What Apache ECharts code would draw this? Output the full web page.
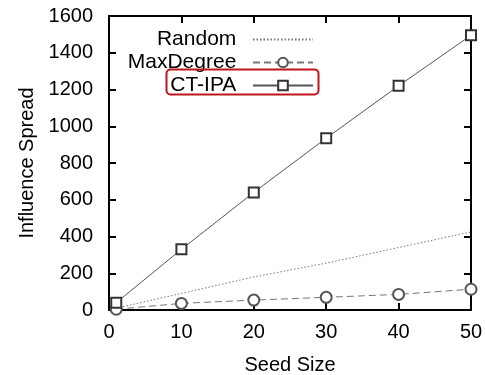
<!DOCTYPE html>
<html>
<head>
<meta charset="utf-8">
<script src="https://cdn.jsdelivr.net/npm/echarts@6/dist/echarts.min.js"></script>
<style>html,body{margin:0;padding:0;background:#fff;}#c{width:485px;height:375px;}</style>
</head>
<body>
<div id="c"></div>
<script>
const seedSizes = [1, 10, 20, 30, 40, 50];
const randomVals = [10, 90, 180, 255, 340, 425];
const maxDegreeVals = [4, 36, 54, 69, 85, 113];
const ctipaVals = [40, 330, 640, 935, 1220, 1495];
const xTicks = [0, 10, 20, 30, 40, 50];
const yTicks = [0, 200, 400, 600, 800, 1000, 1200, 1400, 1600];

const FONT = 'Liberation Sans, Arial, sans-serif';
const chart = echarts.init(document.getElementById('c'), null, {renderer: 'canvas'});
const pairs = (ys) => seedSizes.map((x, i) => [x, ys[i]]);
const axisCommon = () => ({
  axisLine: {show: true, onZero: false, lineStyle: {color: '#000', width: 2}},
  axisTick: {show: true, inside: true, length: 7, lineStyle: {color: '#000', width: 2}},
  splitLine: {show: false}
});
const plain = (v) => String(v);
chart.setOption({
  animation: false,
  backgroundColor: '#fff',
  grid: {left: 109, right: 14, top: 16, bottom: 65, containLabel: false, outerBoundsMode: 'none'},
  xAxis: [
    Object.assign({type: 'value', min: xTicks[0], max: xTicks[xTicks.length-1], interval: 10,
      position: 'bottom', name: 'Seed Size', nameLocation: 'middle', nameGap: 45,
      nameTextStyle: {fontFamily: FONT, fontSize: 20, color: '#000'},
      axisLabel: {fontFamily: FONT, fontSize: 20, color: '#000', margin: 12, formatter: plain}}, axisCommon()),
    Object.assign({type: 'value', min: xTicks[0], max: xTicks[xTicks.length-1], interval: 10,
      position: 'top', axisLabel: {show: false}}, axisCommon())
  ],
  yAxis: [
    Object.assign({type: 'value', min: yTicks[0], max: yTicks[yTicks.length-1], interval: 200,
      position: 'left', name: 'Influence Spread', nameLocation: 'middle', nameGap: 69,
      nameTextStyle: {fontFamily: FONT, fontSize: 20, color: '#000'},
      axisLabel: {fontFamily: FONT, fontSize: 20, color: '#000', margin: 16, formatter: plain}}, axisCommon()),
    Object.assign({type: 'value', min: yTicks[0], max: yTicks[yTicks.length-1], interval: 200,
      position: 'right', axisLabel: {show: false}}, axisCommon())
  ],
  legend: {
    orient: 'vertical', align: 'right', right: 166, top: 24,
    itemWidth: 60, itemHeight: 12, itemGap: 2,
    formatter: '{name}  ',
    textStyle: {fontFamily: FONT, fontSize: 21, color: '#000'},
    data: [{name: 'Random', itemStyle: {opacity: 0}}, 'MaxDegree', 'CT-IPA']
  },
  series: [
    {name: 'Random', type: 'line', data: pairs(randomVals), symbol: 'none', clip: false,
      lineStyle: {color: '#777', width: 1, type: [1.5, 2]}, itemStyle: {color: '#777'}},
    {name: 'MaxDegree', type: 'line', data: pairs(maxDegreeVals), symbol: 'emptyCircle', symbolSize: 11, clip: false,
      lineStyle: {color: '#777', width: 1, type: [7, 4]}, itemStyle: {color: '#555', borderColor: '#555', borderWidth: 1}},
    {name: 'CT-IPA', type: 'line', data: pairs(ctipaVals), symbol: 'emptyRect', symbolSize: 10, clip: false,
      lineStyle: {color: '#555', width: 1}, itemStyle: {color: '#333', borderColor: '#333', borderWidth: 1}}
  ],
  graphic: [
    {type: 'rect', left: 164, top: 67, shape: {width: 152, height: 25, r: 4}, z: 100,
      style: {fill: 'none', stroke: '#c0141c', lineWidth: 2}}
  ]
});
</script>
</body>
</html>
